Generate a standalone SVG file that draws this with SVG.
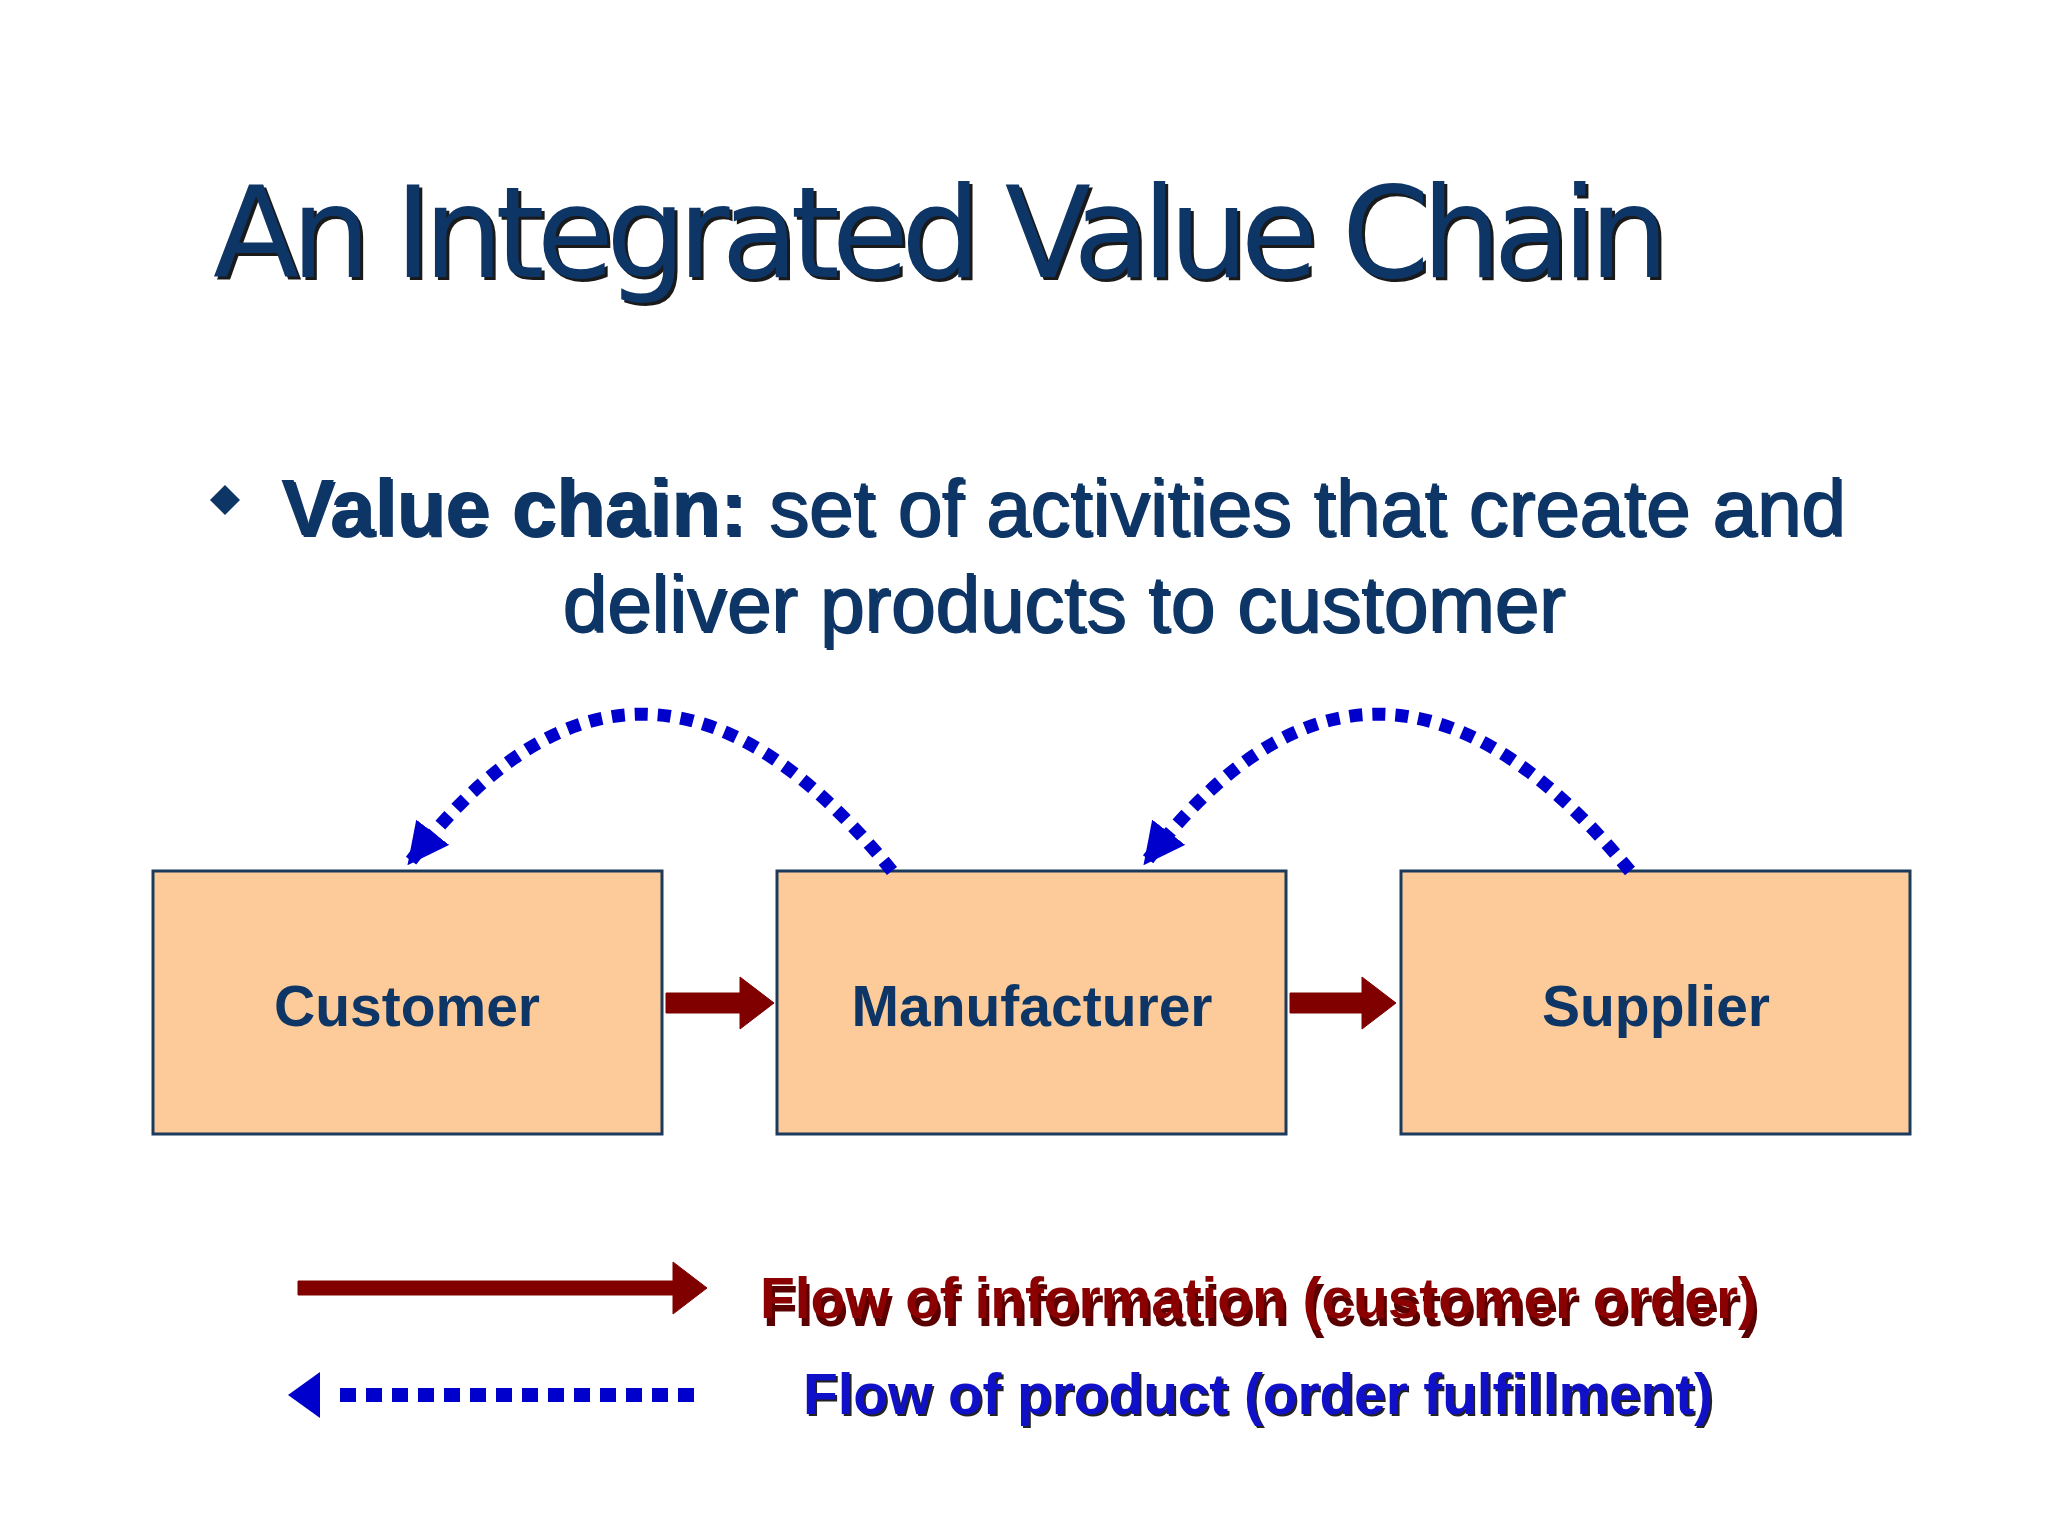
<svg xmlns="http://www.w3.org/2000/svg" width="2048" height="1536" viewBox="0 0 2048 1536">
<style>
.t{font-family:"DejaVu Sans",Verdana,sans-serif;fill:#0d3566}
.s{fill:#1a1a1a}
.b{font-family:"Liberation Sans",Arial,sans-serif;font-weight:bold;fill:#0d3566}
.n{font-weight:normal}
.box{fill:#fccb99;stroke:#1b3a5c;stroke-width:3}
.red{stroke:#800000;fill:#800000}
.dot{fill:none;stroke:#0000cc;stroke-width:13;stroke-dasharray:13 10}
</style>
<defs>
<marker id="bh" viewBox="0 0 10 10" refX="9" refY="5" markerWidth="3.2" markerHeight="3.2" orient="auto"><path d="M0,0L10,5L0,10z" fill="#0000cc"/></marker>
</defs>
<rect width="2048" height="1536" fill="#ffffff"/>
<g id="title">
<text class="t s" x="216" y="280" font-size="126" textLength="1456">An Integrated Value Chain</text>
<text class="t" x="213" y="277" font-size="126" textLength="1456">An Integrated Value Chain</text>
</g>
<g id="bullet">
<path d="M225,485L240,500L225,515L210,500z" fill="#0d3566"/>
<text class="b s" x="283" y="537" font-size="80" textLength="1564"><tspan font-weight="bold">Value chain:</tspan><tspan font-weight="normal"> set of activities that create and</tspan></text>
<text class="b" x="281" y="535" font-size="80" textLength="1564"><tspan font-weight="bold">Value chain:</tspan><tspan font-weight="normal"> set of activities that create and</tspan></text>
<text class="b n s" x="564" y="633" font-size="80" textLength="1003">deliver products to customer</text>
<text class="b n" x="562" y="631" font-size="80" textLength="1003">deliver products to customer</text>
</g>
<g id="customer"><rect class="box" x="153" y="871" width="509" height="263"/><text class="b" x="407" y="1026" font-size="57" text-anchor="middle">Customer</text></g>
<g id="manufacturer"><rect class="box" x="777" y="871" width="509" height="263"/><text class="b" x="1032" y="1026" font-size="57" text-anchor="middle">Manufacturer</text></g>
<g id="supplier"><rect class="box" x="1401" y="871" width="509" height="263"/><text class="b" x="1656" y="1026" font-size="57" text-anchor="middle">Supplier</text></g>
<g id="connectors">
<path class="red" d="M666,993H740V977L774,1003L740,1029V1013H666z"/>
<path class="red" d="M1290,993H1362V977L1396,1003L1362,1029V1013H1290z"/>
<path class="dot" d="M892,871Q640,562 410,862" marker-end="url(#bh)"/>
<path class="dot" d="M1630,871Q1375,562 1146,862" marker-end="url(#bh)"/>
</g>
<g id="legend">
<path class="red" d="M298,1281H673V1262L707,1288L673,1314V1295H298z"/>
<path d="M288,1395L320,1372V1418z" fill="#0000cc"/>
<line x1="340" y1="1395" x2="700" y2="1395" stroke="#0000cc" stroke-width="14" stroke-dasharray="16 10"/>
<text class="b" x="763" y="1326" font-size="57" style="fill:#5a0000" textLength="997">Flow of information (customer order)</text>
<text class="b" x="760" y="1318" font-size="57" style="fill:#8b0000" textLength="997">Flow of information (customer order)</text>
<text class="b" x="805" y="1416" font-size="57" style="fill:#222" textLength="910">Flow of product (order fulfillment)</text>
<text class="b" x="803" y="1414" font-size="57" style="fill:#1010c8" textLength="910">Flow of product (order fulfillment)</text>
</g>
</svg>
